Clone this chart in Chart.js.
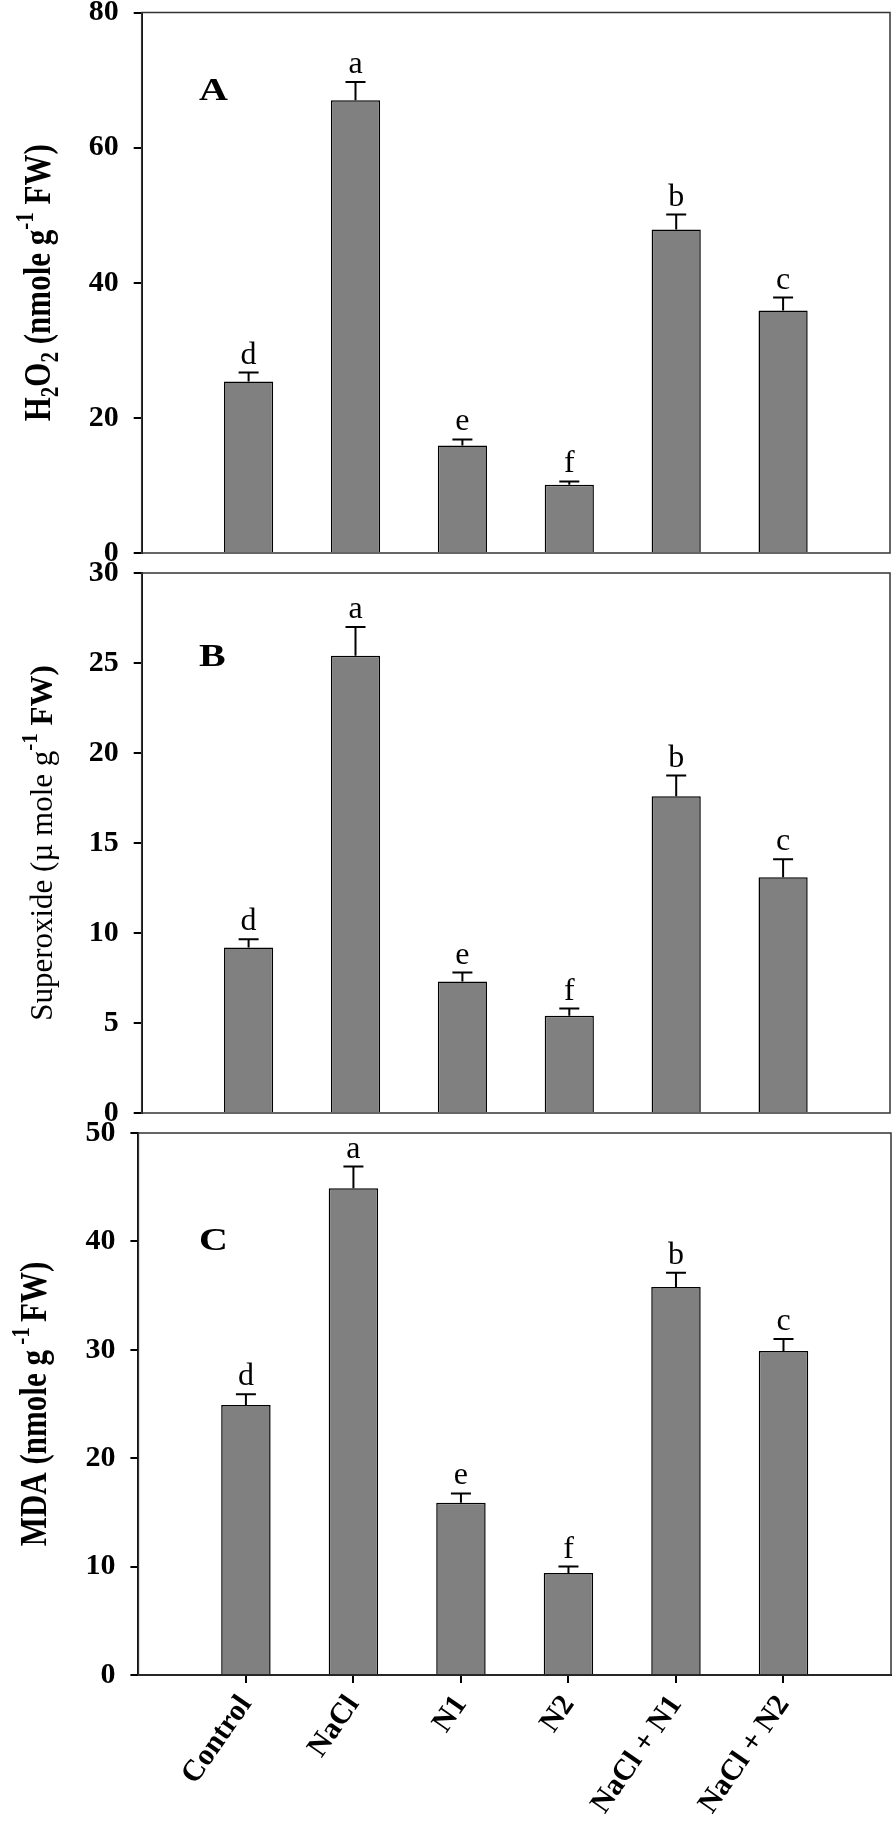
<!DOCTYPE html>
<html lang="en">
<head>
<meta charset="UTF-8">
<title>H2O2, superoxide and MDA</title>
<script src="https://cdn.jsdelivr.net/npm/chart.js"></script>
<style>
  body { margin: 0; background: #fff; }
  #wrap { position: relative; width: 896px; height: 1831px; }
  #wrap canvas { position: absolute; left: 0; top: 0; }
</style>
</head>
<body>
<div id="wrap">
  <canvas id="chartA" width="896" height="1831"></canvas>
  <canvas id="chartB" width="896" height="1831"></canvas>
  <canvas id="chartC" width="896" height="1831"></canvas>
</div>
<script>
// data
const treatments = ['Control', 'NaCl', 'N1', 'N2', 'NaCl + N1', 'NaCl + N2'];
const letters = ['d', 'a', 'e', 'f', 'b', 'c'];

const h2o2 = [25.4, 67.0, 15.9, 10.1, 47.9, 35.9];
const h2o2Err = [1.3, 2.7, 0.9, 0.5, 2.2, 1.9];

const superoxide = [9.2, 25.4, 7.3, 5.4, 17.6, 13.1];
const superoxideErr = [0.45, 1.6, 0.5, 0.4, 1.15, 1.0];

const mda = [24.9, 44.9, 15.9, 9.4, 35.8, 29.9];
const mdaErr = [1.0, 2.0, 0.85, 0.6, 1.3, 1.1];

const SERIF = "'Liberation Serif', 'Times New Roman', serif";

// frame, error bars, letters, panel tag and the y title with sub/superscripts
const panelPlugin = {
  id: 'panel',
  beforeDatasetsDraw(chart) {
    const a = chart.chartArea, ctx = chart.ctx;
    ctx.save();
    ctx.strokeStyle = '#333';
    ctx.lineWidth = 1.5;
    ctx.strokeRect(a.left, a.top, a.right - a.left, a.bottom - a.top);
    ctx.restore();
  },
  afterDatasetsDraw(chart, args, opts) {
    const ctx = chart.ctx, xs = chart.scales.x, ys = chart.scales.y;
    const a = chart.chartArea;
    const vals = chart.data.datasets[0].data;
    ctx.save();
    ctx.strokeStyle = '#000';
    ctx.lineWidth = 2;
    ctx.fillStyle = '#000';
    ctx.textAlign = 'center';
    ctx.textBaseline = 'alphabetic';
    ctx.font = '32px ' + SERIF;
    vals.forEach((p, i) => {
      const x = xs.getPixelForValue(p.x);
      const y0 = ys.getPixelForValue(p.y);
      const y1 = ys.getPixelForValue(p.y + opts.errors[i]);
      ctx.beginPath();
      ctx.moveTo(x, y0);
      ctx.lineTo(x, y1);
      ctx.moveTo(x - 10, y1);
      ctx.lineTo(x + 10, y1);
      ctx.stroke();
      ctx.fillText(letters[i], x, y1 - 9);
    });

    // panel tag (the figure is a bit stretched sideways)
    ctx.save();
    ctx.textAlign = 'left';
    ctx.font = 'bold 32px ' + SERIF;
    ctx.translate(199, a.top + opts.tagY);
    ctx.scale(1.25, 1);
    ctx.fillText(opts.tag, 0, 0);
    ctx.restore();

    // y title, rotated
    const size = opts.titleSize;
    const parts = opts.title.map(s => {
      const fs = s.sub || s.sup ? size * 0.68 : size;
      const f = (s.bold ? 'bold ' : '') + fs + 'px ' + SERIF;
      ctx.font = f;
      return { t: s.t, f, w: ctx.measureText(s.t).width, dy: s.sub ? size * 0.22 : (s.sup ? -size * 0.45 : 0) };
    });
    const total = parts.reduce((n, p) => n + p.w, 0);
    ctx.translate(opts.titleX, (a.top + a.bottom) / 2);
    ctx.rotate(-Math.PI / 2);
    ctx.scale(1, opts.titleStretch);
    ctx.textAlign = 'left';
    let cx = -total / 2;
    parts.forEach(p => {
      ctx.font = p.f;
      ctx.fillText(p.t, cx, p.dy);
      cx += p.w;
    });
    ctx.restore();
  }
};

function makePanel(id, values, yMax, yStep, box, xAxisShown, pluginOpts) {
  const points = values.map((v, i) => ({ x: i + 1, y: v }));
  return new Chart(document.getElementById(id), {
    type: 'bar',
    data: {
      datasets: [{
        data: points,
        backgroundColor: '#808080',
        borderColor: '#000',
        borderWidth: 1.5,
        barPercentage: 0.46,
        categoryPercentage: 1
      }]
    },
    options: {
      responsive: false,
      animation: false,
      layout: {
        autoPadding: false,
        padding: { top: box.top, bottom: box.bottom, left: 0, right: box.right }
      },
      plugins: {
        legend: { display: false },
        tooltip: { enabled: false },
        panel: pluginOpts
      },
      scales: {
        x: {
          type: 'linear',
          min: 0,
          max: 7,
          offset: false,
          display: xAxisShown,
          afterBuildTicks: s => { s.ticks = treatments.map((t, i) => ({ value: i + 1 })); },
          afterFit: s => {
            if (xAxisShown) s.height = box.xHeight;
            s.paddingLeft = 0;
            s.paddingRight = 0;
          },
          ticks: {
            callback: v => treatments[v - 1],
            minRotation: 55,
            maxRotation: 55,
            autoSkip: false,
            padding: 6,
            color: '#000',
            font: { family: SERIF, size: 30, weight: 'bold' }
          },
          grid: { offset: false, drawOnChartArea: false, drawTicks: true, tickLength: 8, color: '#000', lineWidth: 2 },
          border: { display: true, color: '#000', width: 2 }
        },
        y: {
          min: 0,
          max: yMax,
          afterFit: s => {
            s.width = box.left;
            s.paddingTop = 0;
            s.paddingBottom = 0;
          },
          ticks: {
            stepSize: yStep,
            padding: 15,
            color: '#000',
            font: { family: SERIF, size: 30, weight: 'bold' }
          },
          grid: { drawOnChartArea: false, drawTicks: true, tickLength: 8, color: '#000', lineWidth: 2 },
          border: { display: true, color: '#000', width: 2 }
        }
      }
    },
    plugins: [panelPlugin]
  });
}

makePanel('chartA', h2o2, 80, 20,
  { top: 12.5, bottom: 1831 - 553, left: 141.7, right: 6 }, false,
  { errors: h2o2Err, tag: 'A', tagY: 87, titleX: 50, titleSize: 31, titleStretch: 1.2,
    title: [{ t: 'H', bold: 1 }, { t: '2', bold: 1, sub: 1 }, { t: 'O', bold: 1 }, { t: '2', bold: 1, sub: 1 },
            { t: ' (nmole g', bold: 1 }, { t: '-1', bold: 1, sup: 1 }, { t: ' FW)', bold: 1 }] });

makePanel('chartB', superoxide, 30, 5,
  { top: 573, bottom: 1831 - 1113, left: 141.7, right: 6 }, false,
  { errors: superoxideErr, tag: 'B', tagY: 93, titleX: 52, titleSize: 31, titleStretch: 1.05,
    title: [{ t: 'Superoxide (\u00b5 mole g' }, { t: '-1', bold: 1, sup: 1 }, { t: ' FW)', bold: 1 }] });

makePanel('chartC', mda, 50, 10,
  { top: 1133, bottom: 0, left: 138.4, right: 5, xHeight: 1831 - 1675 }, true,
  { errors: mdaErr, tag: 'C', tagY: 117, titleX: 46, titleSize: 31, titleStretch: 1.2,
    title: [{ t: 'MDA (nmole g', bold: 1 }, { t: ' -1 ', bold: 1, sup: 1 }, { t: 'FW)', bold: 1 }] });
</script>
</body>
</html>
